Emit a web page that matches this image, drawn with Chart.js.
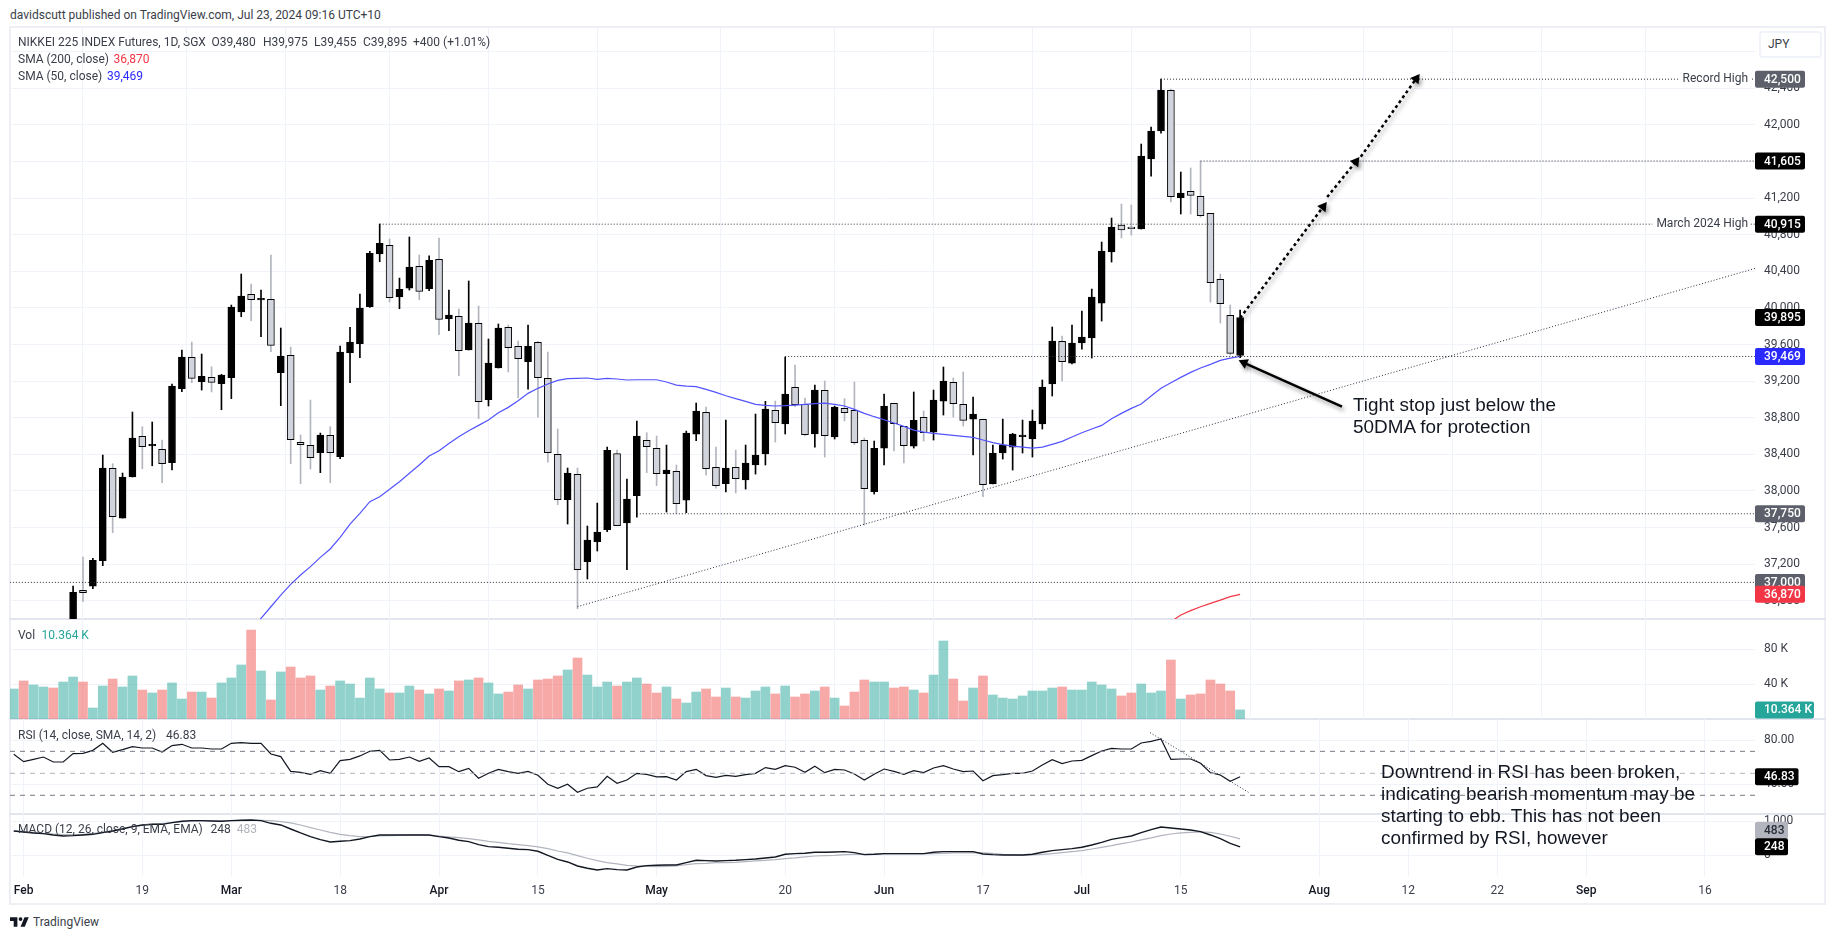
<!DOCTYPE html>
<html>
<head>
<meta charset="utf-8">
<title>Nikkei 225 futures</title>
<script src="https://cdn.jsdelivr.net/npm/chart.js@4"></script>
<style>
  html, body { margin: 0; background: #fff; overflow: hidden; }
  #page { position: relative; width: 1835px; height: 939px; font-family: Roboto, sans-serif; color: #3a3e49; }
  canvas { position: absolute; left: 10px; }
  .t { position: absolute; font-size: 12px; line-height: 16px; white-space: pre; z-index: 5; transform: translateY(-50%); }
  .note { position: absolute; font-family: "Liberation Sans", Arial, sans-serif; font-size: 18.9px; line-height: 22px; color: #131722; white-space: pre; z-index: 5; }
  .rule { position: absolute; background: #eeeff4; }
  .sep { position: absolute; background: #e3e5ee; }
  #jpy { position: absolute; left: 1759px; top: 31px; width: 59px; height: 23px; border: 2px solid #f0f3fa; border-radius: 4px; background: #fff; z-index: 5; font-size: 12px; line-height: 23px; text-indent: 7px; }
</style>
</head>
<body>
<div id="page">
  <div class="rule" style="left:9px;top:26px;width:1817px;height:2px"></div>
  <div class="rule" style="left:9px;top:903px;width:1817px;height:2px"></div>
  <div class="rule" style="left:9px;top:26px;width:2px;height:879px"></div>
  <div class="rule" style="left:1824px;top:26px;width:2px;height:879px"></div>
  <div class="sep" style="left:9px;top:618px;width:1817px;height:1.5px"></div>
  <div class="sep" style="left:9px;top:718px;width:1817px;height:1.5px"></div>
  <div class="sep" style="left:9px;top:813px;width:1817px;height:1.5px"></div>
  <canvas id="priceChart" width="1815" height="592" style="top:27px"></canvas>
  <canvas id="volumeChart" width="1815" height="100" style="top:619px"></canvas>
  <canvas id="rsiChart" width="1815" height="94" style="top:719px"></canvas>
  <canvas id="macdChart" width="1815" height="91" style="top:813px"></canvas>
  <div id="jpy">JPY</div>
  <svg style="position:absolute;left:10px;top:917px" width="19" height="10" viewBox="0 4 36 18"><path fill="#131722" d="M14 22H7V11H0V4h14v18zM28 22h-8l7.5-18h8L28 22z"/><circle fill="#131722" cx="20" cy="7.5" r="3.6"/></svg>
  <div class="note" style="left:1353px;top:394px">Tight stop just below the
50DMA for protection</div>
  <div class="note" style="left:1381px;top:761px">Downtrend in RSI has been broken,
indicating bearish momentum may be
starting to ebb. This has not been
confirmed by RSI, however</div>
</div>

<script>
// ========== DATA ==========
// one entry per trading day, from Jan 31 (index 0) to Jul 23 2024 (index 124)
const opens = [
  35900,36100,35950,36050,36200,36100,36552,36913,36960,37237,
  38246,37703,38152,38596,38492,38454,38308,39117,39459,39193,
  39241,39172,39237,39955,40148,40087,40093,39292,39481,38530,
  38498,38417,38607,38374,39510,39609,40013,40589,40683,40119,
  40217,40454,40210,40530,39882,39907,39540,39831,38997,39343,
  39787,39580,39412,39623,39230,38399,37904,38181,37226,37445,
  37576,38407,37649,37948,38552,38465,38188,38213,37900,38621,
  38858,38257,38079,38257,38119,38283,38403,38880,38731,39132,
  38946,38622,39099,38589,38902,38880,38552,37991,38468,38957,
  38705,38490,38804,38643,38982,39186,38946,38785,38782,38075,
  38414,38479,38593,38567,38731,39168,39634,39397,39616,39671,
  40053,40611,40906,40872,40862,41627,41933,42377,41204,41274,
  41219,41033,40312,39918,39480];
const highs = [
  36130,36150,36080,36230,36250,36340,36960,37277,37263,38392,
  38297,38195,38862,38702,38753,38556,39168,39540,39627,39496,
  39357,39274,40031,40370,40261,40195,40578,39780,39572,38611,
  38993,38632,38702,39583,39787,40152,40618,40917,40753,40326,
  40775,40578,40570,40764,40195,39988,40294,40020,39660,39824,
  39813,39638,39813,39634,39518,38676,38250,38250,37616,37867,
  38479,38447,38130,38764,38636,38600,38501,38283,38654,38960,
  38917,38479,38774,38447,38501,38840,38979,38982,39463,39376,
  39015,39157,39201,38927,39008,39190,38578,38545,39059,38957,
  38705,39081,38873,39102,39354,39234,39299,39026,38785,38501,
  38785,38629,38774,38884,39212,39791,39693,39813,39966,40206,
  40720,40982,41135,41124,41791,41977,42500,42392,41485,41529,
  41605,41033,40370,40031,39975];
const lows = [
  35860,35900,35900,36000,36050,36070,36500,36789,36931,37183,
  37543,37703,38152,38243,38275,38090,38228,39084,39183,39102,
  39081,38887,39008,39904,39860,39685,39521,38931,38297,38079,
  38239,38199,38090,38352,39183,39456,40006,40505,40064,39991,
  40195,40090,40188,39707,39751,39259,39540,38789,38928,39343,
  39299,39015,39113,38807,38315,37849,37638,36713,37037,37343,
  37554,37620,37139,37714,38199,38057,37769,37754,37762,38549,
  38173,38031,37988,37977,38020,38184,38283,38534,38622,38920,
  38600,38479,38370,38567,38764,38505,37627,37966,38283,38436,
  38305,38468,38545,38556,38829,38807,38709,38392,37937,38075,
  38348,38228,38414,38370,38676,39037,39201,39387,39550,39452,
  39856,40501,40764,40796,40862,41441,41911,41157,41026,41026,
  40993,40064,39835,39485,39455];
const closes = [
  36100,35950,36050,36200,36100,36300,36891,36887,37241,38250,
  37718,38152,38578,38483,38498,38297,39146,39463,39230,39252,
  39186,39266,40010,40130,40090,40093,39591,39474,38560,38505,
  38363,38611,38417,39518,39627,39999,40596,40705,40112,40203,
  40447,40181,40520,39875,39922,39532,39835,38975,39397,39780,
  39565,39445,39580,39237,38417,37904,38195,37139,37463,37550,
  38443,37620,37911,38600,38483,38188,38228,37860,38632,38873,
  38243,38057,38250,38133,38305,38392,38895,38745,39059,38942,
  38614,39102,38603,38917,38855,38527,38024,38465,38928,38734,
  38494,38771,38636,38993,39201,38953,38771,38840,38068,38414,
  38501,38622,38599,38764,39135,39638,39412,39616,39682,40119,
  40622,40884,40851,40866,41660,41933,42381,41215,41255,41230,
  41008,40275,40046,39503,39895];

// SMA 50 starts at index 24, SMA 200 at index 117 (earlier values are below the panel)
const sma50Start = 24;
const sma50 = [
  36480,36607,36734,36862,36978,37081,37172,37274,37365,37492,
  37638,37754,37882,37937,38017,38101,38192,38283,38381,38439,
  38519,38592,38658,38716,38775,38855,38913,38986,39066,39121,
  39168,39208,39226,39230,39234,39219,39230,39223,39212,39215,
  39215,39215,39190,39157,39146,39139,39110,39077,39040,39008,
  38979,38946,38935,38928,38931,38938,38946,38953,38960,38946,
  38928,38891,38847,38811,38778,38742,38705,38665,38643,38629,
  38618,38607,38596,38585,38556,38527,38505,38490,38479,38468,
  38479,38509,38541,38589,38636,38676,38716,38789,38847,38902,
  38949,39037,39121,39183,39241,39295,39343,39383,39427,39452,
  39469];
const sma200Start = 117;
const sma200 = [36570,36643,36691,36734,36771,36807,36844,36870];

const volumeK = [
  34.4,43.6,39,36.7,35.5,42.4,48.1,42.4,12.6,37.8,
  45.8,36.7,49.3,33.2,29.8,33.2,41.3,22.9,30.9,30.9,
  24,41.3,47,61.9,102,55,21.8,53.9,59.6,47,
  49.3,33.2,37.8,43.6,40.1,24,47,34.4,29.8,29.8,
  37.8,33.2,28.7,34.4,32.1,43.6,44.7,47,41.3,28.7,
  30.9,39,34.4,44.7,45.8,49.3,56.2,69.9,50.4,36.7,
  42.4,37.8,42.4,47,40.1,29.8,36.7,22.9,18.3,30.9,
  34.4,25.2,35.5,25.2,24,32.1,36.7,28.7,37.8,25.2,
  28.7,32.1,36.7,24,14.9,30.9,44.7,42.4,42.4,35.5,
  36.7,33.2,29.8,50.4,89.4,45.8,20.6,35.5,49.3,27.5,
  24,22.9,26.4,32.1,32.1,35.5,36.7,33.2,33.2,42.4,
  39,34.4,26.4,29.8,40.1,29.8,32.1,67.6,22.9,27.5,
  28.7,44.7,40.1,32.1,10.364];

const rsi = [
  67.3,60.6,62.7,64.8,60.3,60.3,67.9,68.2,70.9,77.3,
  69.1,71.5,74.2,73,73,69.4,75.2,76.4,73,73,
  72.1,72.1,77.3,77.9,77.3,77.3,67.6,65.2,51.8,50.9,
  49.1,52.4,50,61.5,62.7,65.8,70,70.9,62.1,62.7,
  64.8,60.9,63.9,56.1,56.1,51.5,54.5,45.5,50,53.6,
  51.5,50,51.8,48.2,40,36.4,40,32.7,36.4,37.6,
  47.3,40.9,43.9,50,49.1,46.7,47,43.9,51.5,53.6,
  47.9,46.4,48.2,47.3,48.8,50,55.2,53.6,57,55.5,
  50.9,56.4,50.6,53.6,53,49.4,43.9,49.1,53.9,51.8,
  49.1,52.4,50.6,54.8,57,53.9,51.5,52.1,43.3,47.9,
  48.8,50,50,52.1,57.6,62.4,58.8,61.2,61.8,66.1,
  70.3,72.7,72.1,72.1,77.6,79.1,81.2,62.7,63,63,
  59.1,50.6,48.5,42.7,46.83];

const macd = [
  715,686,657,637,598,568,578,598,617,666,
  715,774,843,892,911,911,960,1000,1019,1019,
  1009,1000,1019,1029,1039,1019,941,892,774,657,
  549,461,392,412,431,480,549,598,598,598,
  598,598,598,549,510,441,402,314,255,235,
  206,176,167,118,0,-118,-196,-314,-382,-431,
  -392,-421,-431,-343,-304,-294,-284,-284,-216,-147,
  -157,-167,-157,-147,-127,-108,-78,-49,29,49,
  59,88,88,98,108,78,20,29,49,49,
  49,49,49,88,108,108,108,108,39,20,
  10,10,10,29,88,137,167,196,235,304,
  382,470,519,568,666,755,833,804,774,745,
  696,598,490,353,248];
const macdSignal = [
  715,696,676,647,627,608,608,617,647,676,
  725,794,843,882,911,931,960,990,1000,1009,
  1009,1009,1019,1019,1029,1029,1019,990,951,892,
  813,745,676,617,578,549,549,568,578,588,
  598,598,588,568,539,519,490,451,412,382,
  343,314,284,245,196,127,69,-10,-88,-157,
  -216,-255,-294,-314,-323,-333,-323,-314,-274,-245,
  -235,-216,-216,-206,-186,-167,-147,-127,-98,-78,
  -49,-20,-10,0,20,29,29,29,39,39,
  39,39,39,49,59,69,69,78,69,59,
  29,10,0,10,29,49,78,108,137,186,
  235,284,343,392,451,510,578,627,657,676,
  686,676,627,559,483];

const xTickPositions = [1,13,22,33,43,53,65,78,88,98,108,118,132,141,150,159,171];
const xTickLabels = ["Feb","19","Mar","18","Apr","15","May","20","Jun","17","Jul","15","Aug","12","22","Sep","16"];
const monthLabels = ["Feb","Mar","Apr","May","Jun","Jul","Aug","Sep"];
const priceTicks = [36800,37200,37600,38000,38400,38800,39200,39600,40000,40400,40800,41200,41600,42000,42400,42800];
const volumeTicks = [40,80];
const rsiTicks = [40,80];
const macdTicks = [0,1000];

// horizontal levels: first bar index and price
const levelStarts = [116,120,37,78,63,-1];
const levelPrices = [42500,41605,40915,39469,37750,37000];

const X_MIN = -0.38;
const X_MAX = 176.06;

const CANDLE_UP = "#000000";
const CANDLE_DOWN = "#d1d4dc";
const WICK_DOWN = "#b2b5be";
const GRID = "#f0f3fa";
const TICK_FONT = { family: "Roboto, sans-serif", size: 12 };
const LAYOUT = { padding: 0, autoPadding: false };

Chart.defaults.animation = false;
Chart.defaults.responsive = false;
Chart.defaults.devicePixelRatio = 1;
Chart.defaults.plugins.legend.display = false;
Chart.defaults.plugins.tooltip.enabled = false;

const fmt = (v) => v.toLocaleString("en-US");
const isUp = (i) => closes[i] >= opens[i];
const hline = (x0, y) => [{ x: x0, y: y }, { x: X_MAX, y: y }];
const series = (values, start) => values.map((y, i) => ({ x: i + start, y: y }));
const isMonthTick = (v) => monthLabels.includes(xTickLabels[xTickPositions.indexOf(v)]);

function xAxis(showLabels) {
  return {
    type: "linear",
    offset: false,
    min: X_MIN,
    max: X_MAX,
    border: { display: false },
    grid: { color: GRID, drawTicks: false },
    ticks: {
      display: showLabels,
      autoSkip: false,
      maxRotation: 0,
      padding: 8,
      color: (ctx) => (ctx.tick && isMonthTick(ctx.tick.value) ? "#131722" : "#3a3e49"),
      font: (ctx) => ({ ...TICK_FONT, weight: ctx.tick && isMonthTick(ctx.tick.value) ? 500 : 400 }),
      callback: (v) => xTickLabels[xTickPositions.indexOf(v)],
    },
    afterBuildTicks: (axis) => { axis.ticks = xTickPositions.map((value) => ({ value })); },
    afterFit: (axis) => {
      axis.paddingLeft = 0;
      axis.paddingRight = 0;
      axis.height = showLabels ? 28 : 0;
    },
  };
}

function yAxis(min, max, tickList, format) {
  return {
    position: "right",
    min: min,
    max: max,
    border: { display: false },
    grid: { color: GRID, drawTicks: false },
    ticks: { padding: 9, color: "#3a3e49", font: TICK_FONT, callback: format },
    afterBuildTicks: (axis) => { axis.ticks = tickList.map((value) => ({ value })); },
    afterFit: (axis) => {
      axis.width = 70;
      axis.paddingTop = 0;
      axis.paddingBottom = 0;
    },
  };
}

// price tags on the right axis, and the small captions in front of them
function tagPlugin(tags, captions) {
  return {
    id: "tags",
    afterDraw(chart) {
      const { ctx, chartArea, scales } = chart;
      ctx.save();
      ctx.textBaseline = "middle";
      (captions || []).forEach((c) => {
        const y = scales.y.getPixelForValue(c.value);
        ctx.font = "12px Roboto, sans-serif";
        const w = ctx.measureText(c.text).width;
        ctx.fillStyle = "#fff";
        ctx.fillRect(chartArea.right - w - 11, y - 8, w + 6, 16);
        ctx.fillStyle = "#3a3e49";
        ctx.textAlign = "right";
        ctx.fillText(c.text, chartArea.right - 7, y);
      });
      tags.forEach((tag) => {
        const y = scales.y.getPixelForValue(tag.at === undefined ? tag.value : tag.at);
        ctx.fillStyle = tag.bg;
        ctx.beginPath();
        ctx.roundRect(chartArea.right, y - 8.5, tag.w, 17, 2);
        ctx.fill();
        ctx.fillStyle = tag.fg || "#fff";
        ctx.textAlign = "left";
        ctx.font = "500 12px Roboto, sans-serif";
        ctx.fillText(tag.text, chartArea.right + 9, y + 0.5);
      });
      ctx.restore();
    },
  };
}

const shadowPlugin = {
  id: "arrowShadow",
  beforeDatasetDraw(chart, args) {
    if (!chart.data.datasets[args.index].shadowed) return;
    const ctx = chart.ctx;
    ctx.save();
    ctx.shadowColor = "rgba(0,0,0,0.4)";
    ctx.shadowBlur = 4;
    ctx.shadowOffsetX = 2;
    ctx.shadowOffsetY = 3;
  },
  afterDatasetDraw(chart, args) {
    if (chart.data.datasets[args.index].shadowed) chart.ctx.restore();
  },
};

function arrow(points, dash, rotation) {
  return {
    type: "line",
    data: points,
    order: 1,
    shadowed: true,
    borderColor: "#000",
    borderWidth: 2.5,
    borderDash: dash,
    tension: 0,
    pointStyle: "triangle",
    pointRotation: rotation,
    pointBackgroundColor: "#000",
    pointBorderWidth: 0,
    pointRadius: points.map((p, i) => (i === points.length - 1 ? 6 : 0)),
  };
}

// ========== PRICE ==========
new Chart(document.getElementById("priceChart"), {
  type: "bar",
  data: {
    datasets: [
      {
        data: lows.map((l, i) => ({ x: i, y: [l, highs[i]] })),
        order: 6,
        grouped: false,
        barThickness: 1,
        backgroundColor: opens.map((o, i) => (isUp(i) ? CANDLE_UP : WICK_DOWN)),
      },
      {
        data: opens.map((o, i) => ({ x: i, y: [o, closes[i]] })),
        order: 5,
        grouped: false,
        barThickness: 7,
        minBarLength: 1.5,
        backgroundColor: opens.map((o, i) => (isUp(i) ? CANDLE_UP : CANDLE_DOWN)),
        borderColor: "#000",
        borderWidth: 1,
        borderSkipped: false,
      },
      { type: "line", data: series(sma50, sma50Start), order: 4, borderColor: "#5353ff", borderWidth: 1.2, pointRadius: 0, tension: 0 },
      { type: "line", data: series(sma200, sma200Start), order: 4, borderColor: "#f23645", borderWidth: 1.2, pointRadius: 0, tension: 0 },
      ...levelPrices.map((p, i) => ({
        type: "line",
        data: hline(levelStarts[i], p),
        order: 3,
        borderColor: "#2a2e39",
        borderWidth: 1,
        borderDash: [1, 2],
        pointRadius: 0,
      })),
      // rising support line
      {
        type: "line",
        data: [{ x: 57, y: 36735 }, { x: X_MAX, y: 40431 }],
        order: 3,
        borderColor: "#2a2e39",
        borderWidth: 1,
        borderDash: [1, 2],
        pointRadius: 0,
      },
      arrow([{ x: 124, y: 39890 }, { x: 132.4, y: 41106 }], [3, 3], 37),
      arrow([{ x: 132.8, y: 41212 }, { x: 135.7, y: 41598 }], [3, 3], 37),
      arrow([{ x: 136.2, y: 41652 }, { x: 141.8, y: 42505 }], [3, 3], 37),
      arrow([{ x: 134.3, y: 38920 }, { x: 124.4, y: 39400 }], [], -66),
    ],
  },
  options: {
    layout: LAYOUT,
    scales: { x: xAxis(false), y: yAxis(36600, 43070, priceTicks, fmt) },
  },
  plugins: [
    shadowPlugin,
    tagPlugin(
      [
        { value: 42500, text: "42,500", bg: "#5d606b", w: 50 },
        { value: 41605, text: "41,605", bg: "#000", w: 50 },
        { value: 40915, text: "40,915", bg: "#000", w: 50 },
        { value: 39895, text: "39,895", bg: "#000", w: 50 },
        { value: 39469, text: "39,469", bg: "#2a2aff", w: 50 },
        { value: 37750, text: "37,750", bg: "#5d606b", w: 50 },
        { value: 37000, text: "37,000", bg: "#5d606b", w: 50 },
        { value: 36870, text: "36,870", bg: "#f23645", w: 50 },
      ],
      [
        { value: 42500, text: "Record High" },
        { value: 40915, text: "March 2024 High" },
      ]
    ),
  ],
});

// ========== VOLUME ==========
new Chart(document.getElementById("volumeChart"), {
  type: "bar",
  data: {
    datasets: [
      {
        data: series(volumeK, 0),
        barThickness: 9,
        backgroundColor: volumeK.map((v, i) => (isUp(i) ? "rgba(38,166,154,0.5)" : "rgba(239,83,80,0.5)")),
      },
    ],
  },
  options: {
    layout: LAYOUT,
    scales: { x: xAxis(false), y: yAxis(0, 114.6, volumeTicks, (v) => v + " K") },
  },
  plugins: [tagPlugin([{ value: 10.364, text: "10.364 K", bg: "#26a69a", w: 59 }])],
});

// ========== RSI ==========
new Chart(document.getElementById("rsiChart"), {
  type: "line",
  data: {
    datasets: [
      { data: hline(X_MIN, 70), borderColor: "#787b86", borderWidth: 1, borderDash: [5, 5], pointRadius: 0 },
      { data: hline(X_MIN, 50), borderColor: "#b2b5be", borderWidth: 1, borderDash: [5, 5], pointRadius: 0 },
      { data: hline(X_MIN, 30), borderColor: "#787b86", borderWidth: 1, borderDash: [5, 5], pointRadius: 0 },
      { data: series(rsi, 0), borderColor: "#131722", borderWidth: 1.2, pointRadius: 0, tension: 0 },
      { data: [{ x: 114.9, y: 87 }, { x: 124.9, y: 32.4 }], borderColor: "#2a2e39", borderWidth: 1, borderDash: [1, 2], pointRadius: 0 },
    ],
  },
  options: {
    layout: LAYOUT,
    scales: { x: xAxis(false), y: yAxis(13.9, 99.4, rsiTicks, (v) => v.toFixed(2)) },
  },
  plugins: [tagPlugin([{ value: 46.83, text: "46.83", bg: "#000", w: 43.5 }])],
});

// ========== MACD ==========
new Chart(document.getElementById("macdChart"), {
  type: "line",
  data: {
    datasets: [
      { data: series(macdSignal, 0), borderColor: "#b2b5be", borderWidth: 1.2, pointRadius: 0, tension: 0, order: 2 },
      { data: series(macd, 0), borderColor: "#131722", borderWidth: 1.4, pointRadius: 0, tension: 0, order: 1 },
    ],
  },
  options: {
    layout: LAYOUT,
    scales: { x: xAxis(true), y: yAxis(-609, 1244, macdTicks, fmt) },
  },
  plugins: [
    tagPlugin([
      { value: 483, at: 740, text: "483", bg: "#b2b5be", fg: "#2a2e39", w: 33 },
      { value: 248, text: "248", bg: "#000", w: 33 },
    ]),
  ],
});

// ========== HEADER AND LEGENDS ==========
function addText(x, y, text, color) {
  const el = document.createElement("div");
  el.className = "t";
  el.style.left = x + "px";
  el.style.top = y + "px";
  if (color) el.style.color = color;
  el.textContent = text;
  document.getElementById("page").appendChild(el);
}

addText(10, 15, "davidscutt published on TradingView.com, Jul 23, 2024 09:16 UTC+10");
addText(18, 42, "NIKKEI 225 INDEX Futures, 1D, SGX");
addText(211.5, 42, "O39,480");
addText(263, 42, "H39,975");
addText(314, 42, "L39,455");
addText(363, 42, "C39,895");
addText(413, 42, "+400 (+1.01%)");
addText(18, 59, "SMA (200, close)");
addText(113.5, 59, "36,870", "#f23645");
addText(18, 76, "SMA (50, close)");
addText(107, 76, "39,469", "#2a2aff");
addText(18, 635, "Vol");
addText(41.5, 635, "10.364 K", "#26a69a");
addText(18, 735, "RSI (14, close, SMA, 14, 2)");
addText(166, 735, "46.83");
addText(18, 829, "MACD (12, 26, close, 9, EMA, EMA)");
addText(210.6, 829, "248");
addText(236.7, 829, "483", "#b2b5be");
addText(33, 922, "TradingView");
</script>
</body>
</html>
